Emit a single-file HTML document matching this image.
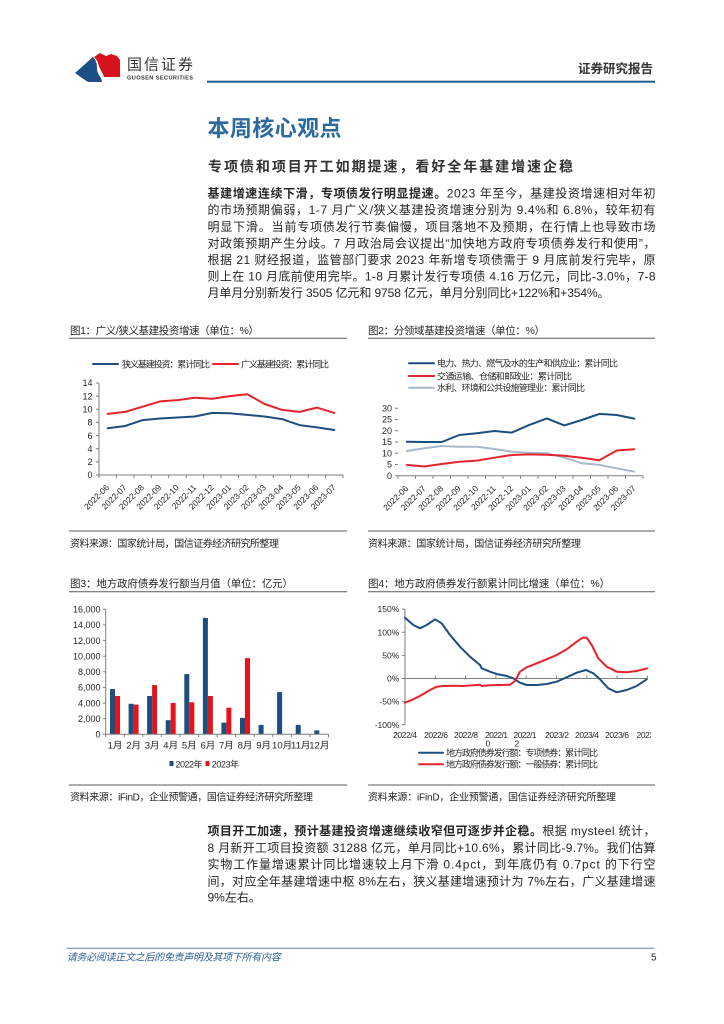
<!DOCTYPE html>
<html><head><meta charset="utf-8">
<style>
html,body{margin:0;padding:0;background:#fff;}
svg{display:block;}
text{font-family:"Liberation Sans","Noto Sans CJK SC",sans-serif;fill:#262626;}
.ax{stroke:#7f7f7f;stroke-width:1;fill:none;}
.rule{stroke:#5a5a5a;stroke-width:1;}
.bl{stroke:#1d4e80;stroke-width:2;fill:none;stroke-linejoin:round;stroke-linecap:round;}
.rd{stroke:#e4232b;stroke-width:2;fill:none;stroke-linejoin:round;stroke-linecap:round;}
.gy{stroke:#a9b8cc;stroke-width:2;fill:none;stroke-linejoin:round;stroke-linecap:round;}
</style></head><body>
<svg width="724" height="1024" viewBox="0 0 724 1024" xmlns="http://www.w3.org/2000/svg">
<defs><clipPath id="c4"><rect x="380" y="728" width="271" height="20"/></clipPath></defs>
<rect width="724" height="1024" fill="#fff"/>

<!-- Header -->
<path d="M75,73 L93,57 C97,61 97,66 97,70 C98,75 102,78 102,82 L88,82 L82,78 Z" fill="#1b4f86"/>
<path d="M94,57 L100,53 L106,56 L111,54 L117,56 L120,60 L120,77 L104,77 C103,73 100,70 99,66 C98,62 97,60 94,57 Z" fill="#d7141d"/>
<text x="127" y="69.5" font-size="15" textLength="66" lengthAdjust="spacing" style="fill:#333">国信证券</text>
<text x="127" y="79.5" font-size="5.6" font-weight="bold" textLength="66" lengthAdjust="spacing" style="fill:#333">GUOSEN SECURITIES</text>
<rect x="207" y="80.7" width="448" height="2" fill="#1f5a8f"/>
<text x="578" y="72.8" font-size="12.5" font-weight="bold" textLength="75" lengthAdjust="spacing" style="fill:#333">证券研究报告</text>

<!-- Title -->
<text x="207.5" y="136" font-size="22" font-weight="bold" textLength="134" lengthAdjust="spacing" style="fill:#2c6a9e">本周核心观点</text>
<text x="208" y="171.3" font-size="14" font-weight="bold" textLength="365" lengthAdjust="spacing" style="fill:#333">专项债和项目开工如期提速，看好全年基建增速企稳</text>

<!-- Body text top -->
<g font-size="12">
<text x="207.5" y="197.6" textLength="448" lengthAdjust="spacing"><tspan font-weight="bold">基建增速连续下滑，专项债发行明显提速。</tspan>2023 年至今，基建投资增速相对年初</text>
<text x="207.5" y="214.2" textLength="448" lengthAdjust="spacing">的市场预期偏弱，1-7 月广义/狭义基建投资增速分别为 9.4%和 6.8%，较年初有</text>
<text x="207.5" y="230.8" textLength="448" lengthAdjust="spacing">明显下滑。当前专项债发行节奏偏慢，项目落地不及预期，在行情上也导致市场</text>
<text x="207.5" y="247.4" textLength="448" lengthAdjust="spacing">对政策预期产生分歧。7 月政治局会议提出“加快地方政府专项债券发行和使用”，</text>
<text x="207.5" y="264.0" textLength="448" lengthAdjust="spacing">根据 21 财经报道，监管部门要求 2023 年新增专项债需于 9 月底前发行完毕，原</text>
<text x="207.5" y="280.6" textLength="448" lengthAdjust="spacing">则上在 10 月底前使用完毕。1-8 月累计发行专项债 4.16 万亿元，同比-3.0%，7-8</text>
<text x="207.5" y="297.2" textLength="402" lengthAdjust="spacing">月单月分别新发行 3505 亿元和 9758 亿元，单月分别同比+122%和+354%。</text>
</g>

<!-- ===== Chart 1 ===== -->
<text x="70" y="334" font-size="10.5" textLength="189" lengthAdjust="spacing">图1：广义/狭义基建投资增速（单位：%）</text>
<line x1="69" y1="338.3" x2="347" y2="338.3" class="rule"/>
<line x1="93" y1="364" x2="118" y2="364" class="bl"/>
<text x="122" y="367.4" font-size="9" textLength="88" lengthAdjust="spacing">狭义基建投资：累计同比</text>
<line x1="213" y1="364" x2="238" y2="364" class="rd"/>
<text x="241" y="367.4" font-size="9" textLength="88" lengthAdjust="spacing">广义基建投资：累计同比</text>
<g font-size="9" text-anchor="end">
<text x="92.5" y="386.2">14</text><text x="92.5" y="399.3">12</text><text x="92.5" y="412.5">10</text>
<text x="92.5" y="425.6">8</text><text x="92.5" y="438.8">6</text><text x="92.5" y="451.9">4</text>
<text x="92.5" y="465.1">2</text><text x="92.5" y="478.2">0</text>
</g>
<path class="ax" d="M99,383V475H343 M96,383h3 M96,396.1h3 M96,409.3h3 M96,422.4h3 M96,435.6h3 M96,448.7h3 M96,461.9h3 M96,475h3
M99,475v3 M116.4,475v3 M133.9,475v3 M151.3,475v3 M168.7,475v3 M186.2,475v3 M203.6,475v3 M221,475v3 M238.4,475v3 M255.9,475v3 M273.3,475v3 M290.7,475v3 M308.2,475v3 M325.6,475v3 M343,475v3"/>
<polyline class="bl" points="107.7,428.3 125.1,426.0 142.6,420.1 160.0,418.5 177.4,417.5 194.9,416.5 212.3,412.9 229.7,413.2 247.2,414.9 264.6,416.5 282.0,419.1 299.4,425.1 316.9,427.4 334.3,430.0"/>
<polyline class="rd" points="107.7,413.9 125.1,411.9 142.6,406.7 160.0,401.4 177.4,400.1 194.9,397.8 212.3,398.8 229.7,396.1 247.2,394.2 264.6,404.0 282.0,409.9 299.4,411.9 316.9,407.6 334.3,412.9"/>
<g font-size="8.5" text-anchor="end">
<text transform="translate(109.7,488) rotate(-45)">2022-06</text>
<text transform="translate(127.1,488) rotate(-45)">2022-07</text>
<text transform="translate(144.6,488) rotate(-45)">2022-08</text>
<text transform="translate(162.0,488) rotate(-45)">2022-09</text>
<text transform="translate(179.4,488) rotate(-45)">2022-10</text>
<text transform="translate(196.9,488) rotate(-45)">2022-11</text>
<text transform="translate(214.3,488) rotate(-45)">2022-12</text>
<text transform="translate(231.7,488) rotate(-45)">2023-01</text>
<text transform="translate(249.2,488) rotate(-45)">2023-02</text>
<text transform="translate(266.6,488) rotate(-45)">2023-03</text>
<text transform="translate(284.0,488) rotate(-45)">2023-04</text>
<text transform="translate(301.4,488) rotate(-45)">2023-05</text>
<text transform="translate(318.9,488) rotate(-45)">2023-06</text>
<text transform="translate(336.3,488) rotate(-45)">2023-07</text>
</g>
<line x1="69" y1="531" x2="347" y2="531" class="rule"/>
<text x="70" y="547" font-size="10" textLength="209" lengthAdjust="spacing">资料来源：国家统计局，国信证券经济研究所整理</text>

<!-- ===== Chart 2 ===== -->
<text x="368" y="334" font-size="10.5" textLength="177" lengthAdjust="spacing">图2：分领域基建投资增速（单位：%）</text>
<line x1="368" y1="338.3" x2="655" y2="338.3" class="rule"/>
<line x1="409" y1="363.3" x2="434" y2="363.3" class="bl"/>
<text x="437" y="366.7" font-size="9" textLength="181" lengthAdjust="spacing">电力、热力、燃气及水的生产和供应业：累计同比</text>
<line x1="409" y1="376" x2="434" y2="376" class="rd"/>
<text x="437" y="379.4" font-size="9" textLength="135" lengthAdjust="spacing">交通运输、仓储和邮政业：累计同比</text>
<line x1="409" y1="387.7" x2="434" y2="387.7" class="gy"/>
<text x="437" y="391.1" font-size="9" textLength="148" lengthAdjust="spacing">水利、环境和公共设施管理业：累计同比</text>
<g font-size="9" text-anchor="end">
<text x="392" y="411.5">30</text><text x="392" y="422.7">25</text><text x="392" y="434">20</text>
<text x="392" y="445.2">15</text><text x="392" y="456.4">10</text><text x="392" y="467.7">5</text><text x="392" y="478.9">0</text>
</g>
<path class="ax" d="M398,475.7H643 M395,408.3h3 M395,419.5h3 M395,430.8h3 M395,442h3 M395,453.2h3 M395,464.5h3 M395,475.7h3
M398,475.7v3 M415.5,475.7v3 M433,475.7v3 M450.5,475.7v3 M468,475.7v3 M485.5,475.7v3 M503,475.7v3 M520.5,475.7v3 M538,475.7v3 M555.5,475.7v3 M573,475.7v3 M590.5,475.7v3 M608,475.7v3 M625.5,475.7v3 M643,475.7v3"/>
<polyline class="gy" points="406.8,451.0 424.3,448.3 441.8,446.0 459.3,446.7 476.8,446.7 494.3,449.0 511.8,451.7 529.3,452.8 546.8,453.2 564.3,457.7 581.8,463.3 599.3,464.9 616.8,468.3 634.3,471.7"/>
<polyline class="rd" points="406.8,464.9 424.3,466.5 441.8,464.0 459.3,461.8 476.8,460.6 494.3,457.7 511.8,455.0 529.3,454.4 546.8,454.8 564.3,455.7 581.8,457.7 599.3,460.2 616.8,450.5 634.3,449.2"/>
<polyline class="bl" points="406.8,441.8 424.3,442.0 441.8,442.0 459.3,435.0 476.8,433.2 494.3,431.0 511.8,432.6 529.3,424.9 546.8,418.4 564.3,425.4 581.8,420.0 599.3,413.9 616.8,415.0 634.3,418.6"/>
<g font-size="8.5" text-anchor="end">
<text transform="translate(408.8,489) rotate(-45)">2022-06</text>
<text transform="translate(426.3,489) rotate(-45)">2022-07</text>
<text transform="translate(443.8,489) rotate(-45)">2022-08</text>
<text transform="translate(461.3,489) rotate(-45)">2022-09</text>
<text transform="translate(478.8,489) rotate(-45)">2022-10</text>
<text transform="translate(496.3,489) rotate(-45)">2022-11</text>
<text transform="translate(513.8,489) rotate(-45)">2022-12</text>
<text transform="translate(531.3,489) rotate(-45)">2023-01</text>
<text transform="translate(548.8,489) rotate(-45)">2023-02</text>
<text transform="translate(566.3,489) rotate(-45)">2023-03</text>
<text transform="translate(583.8,489) rotate(-45)">2023-04</text>
<text transform="translate(601.3,489) rotate(-45)">2023-05</text>
<text transform="translate(618.8,489) rotate(-45)">2023-06</text>
<text transform="translate(636.3,489) rotate(-45)">2023-07</text>
</g>
<line x1="368" y1="531" x2="655" y2="531" class="rule"/>
<text x="368" y="547" font-size="10" textLength="213" lengthAdjust="spacing">资料来源：国家统计局，国信证券经济研究所整理</text>

<!-- ===== Chart 3 ===== -->
<text x="70" y="587" font-size="10.5" textLength="223" lengthAdjust="spacing">图3：地方政府债券发行额当月值（单位：亿元）</text>
<line x1="69" y1="591.7" x2="347" y2="591.7" class="rule"/>
<g font-size="9" text-anchor="end">
<text x="100.5" y="612.5">16,000</text><text x="100.5" y="628.2">14,000</text><text x="100.5" y="643.8">12,000</text>
<text x="100.5" y="659.4">10,000</text><text x="100.5" y="675">8,000</text><text x="100.5" y="690.6">6,000</text>
<text x="100.5" y="706.3">4,000</text><text x="100.5" y="721.9">2,000</text><text x="100.5" y="737.5">0</text>
</g>
<g fill="#1d4e80">
<rect x="110.0" y="689.0" width="5" height="45.3"/>
<rect x="128.6" y="703.8" width="5" height="30.5"/>
<rect x="147.1" y="696.0" width="5" height="38.3"/>
<rect x="165.7" y="720.2" width="5" height="14.1"/>
<rect x="184.3" y="674.1" width="5" height="60.2"/>
<rect x="202.9" y="617.9" width="5" height="116.4"/>
<rect x="221.4" y="722.6" width="5" height="11.7"/>
<rect x="240.0" y="717.9" width="5" height="16.4"/>
<rect x="258.6" y="724.9" width="5" height="9.4"/>
<rect x="277.1" y="692.1" width="5" height="42.2"/>
<rect x="295.7" y="724.9" width="5" height="9.4"/>
<rect x="314.3" y="730.4" width="5" height="3.9"/>
</g>
<g fill="#e3141e">
<rect x="115.0" y="696.0" width="5" height="38.3"/>
<rect x="133.6" y="704.6" width="5" height="29.7"/>
<rect x="152.1" y="685.1" width="5" height="49.2"/>
<rect x="170.7" y="703.0" width="5" height="31.3"/>
<rect x="189.3" y="702.3" width="5" height="32.0"/>
<rect x="207.9" y="696.0" width="5" height="38.3"/>
<rect x="226.4" y="707.7" width="5" height="26.6"/>
<rect x="245.0" y="658.1" width="5" height="76.2"/>
</g>
<path class="ax" d="M105.7,609.3V734.3H328.5 M102.7,609.3h3 M102.7,625h3 M102.7,640.6h3 M102.7,656.2h3 M102.7,671.8h3 M102.7,687.4h3 M102.7,703.1h3 M102.7,718.7h3 M102.7,734.3h3
M105.7,734.3v3 M124.3,734.3v3 M142.8,734.3v3 M161.4,734.3v3 M180,734.3v3 M198.6,734.3v3 M217.1,734.3v3 M235.7,734.3v3 M254.3,734.3v3 M272.8,734.3v3 M291.4,734.3v3 M310,734.3v3 M328.5,734.3v3"/>
<g font-size="9.5" text-anchor="middle">
<text x="115.0" y="748.5">1月</text><text x="133.6" y="748.5">2月</text><text x="152.1" y="748.5">3月</text>
<text x="170.7" y="748.5">4月</text><text x="189.3" y="748.5">5月</text><text x="207.9" y="748.5">6月</text>
<text x="226.4" y="748.5">7月</text><text x="245.0" y="748.5">8月</text><text x="263.6" y="748.5">9月</text>
<text x="282.1" y="748.5">10月</text><text x="300.7" y="748.5">11月</text><text x="319.3" y="748.5">12月</text>
</g>
<rect x="169.5" y="761" width="4" height="5" fill="#1d4e80"/>
<text x="175.5" y="767.3" font-size="9" textLength="27" lengthAdjust="spacing">2022年</text>
<rect x="205.5" y="761" width="4" height="5" fill="#e3141e"/>
<text x="211.7" y="767.3" font-size="9" textLength="27.5" lengthAdjust="spacing">2023年</text>
<line x1="69" y1="785" x2="347" y2="785" class="rule"/>
<text x="70" y="800.5" font-size="10" textLength="243" lengthAdjust="spacing">资料来源：iFinD，企业预警通，国信证券经济研究所整理</text>

<!-- ===== Chart 4 ===== -->
<text x="368" y="587" font-size="10.5" textLength="242" lengthAdjust="spacing">图4：地方政府债券发行额累计同比增速（单位：%）</text>
<line x1="368" y1="591.7" x2="655" y2="591.7" class="rule"/>
<g font-size="8.5" text-anchor="end">
<text x="399.3" y="612.2">150%</text><text x="399.3" y="635.3">100%</text><text x="399.3" y="658.5">50%</text>
<text x="399.3" y="681.6">0%</text><text x="399.3" y="704.7">-50%</text><text x="399.3" y="727.9">-100%</text>
</g>
<path class="ax" d="M405,609V725 M402,609.1h3 M402,632.2h3 M402,655.4h3 M402,678.5h3 M402,701.6h3 M402,724.8h3
M405,678.5H647.4 M435.3,675.5v3 M465.6,675.5v3 M495.9,675.5v3 M526.2,675.5v3 M556.5,675.5v3 M586.8,675.5v3 M617.1,675.5v3 M647.4,675.5v3"/>
<polyline class="bl" points="405,617.7 413.3,625 420,628.3 426.7,625 435,619.3 441.7,623.3 450,635 460,646.7 470,656.7 480,665 481.7,668.3 490,671.7 496.7,674 506.7,676 513.3,678.3 520,682.7 526.7,685 536.7,685 546.7,684 556.7,681.7 566.7,677.3 576.7,672.7 586,670 593.3,673.3 600,679.3 608.3,688.3 616.7,692.3 626.7,690 636.7,686 646.7,679.3"/>
<polyline class="rd" points="405,702.7 413.3,699.3 421.7,695 430,690 436.7,686.7 443.3,686 453.3,685.7 463.3,686 473.3,685.3 480,684.7 481.7,686 490,685.3 500,685 510,684.7 515,681 520,671.7 526.7,667.3 536.7,663.3 546.7,659.3 556.7,655 566.7,649.3 576.7,641.7 582.7,637.7 586.7,637.7 591.7,645 598.3,658.3 606.7,666.7 616.7,671.7 626.7,672.3 636.7,671 647.3,668.3"/>
<g font-size="8.5">
<text x="393" y="738" textLength="24" lengthAdjust="spacing">2022/4</text>
<text x="424" y="738" textLength="24" lengthAdjust="spacing">2022/6</text>
<text x="454" y="738" textLength="24" lengthAdjust="spacing">2022/8</text>
<text x="485" y="738" textLength="23" lengthAdjust="spacing">2022/1</text>
<text x="513.5" y="738" textLength="23" lengthAdjust="spacing">2022/1</text>
<text x="545" y="738" textLength="24" lengthAdjust="spacing">2023/2</text>
<text x="575" y="738" textLength="24" lengthAdjust="spacing">2023/4</text>
<text x="605" y="738" textLength="24" lengthAdjust="spacing">2023/6</text>
<text x="636.5" y="738" textLength="24" lengthAdjust="spacing" clip-path="url(#c4)">2023/8</text>
<text x="485.5" y="746.5">0</text>
<text x="514.5" y="746.5">2</text>
</g>
<line x1="419" y1="752.7" x2="443" y2="752.7" class="bl"/>
<text x="446" y="756" font-size="9" textLength="152" lengthAdjust="spacing">地方政府债券发行额：专项债券：累计同比</text>
<line x1="419" y1="764.3" x2="443" y2="764.3" class="rd"/>
<text x="446" y="767.6" font-size="9" textLength="152" lengthAdjust="spacing">地方政府债券发行额：一般债券：累计同比</text>
<line x1="368" y1="785" x2="655" y2="785" class="rule"/>
<text x="368" y="800.5" font-size="10" textLength="248" lengthAdjust="spacing">资料来源：iFinD，企业预警通，国信证券经济研究所整理</text>

<!-- Body text bottom -->
<g font-size="12">
<text x="207.5" y="835.1" textLength="448" lengthAdjust="spacing"><tspan font-weight="bold">项目开工加速，预计基建投资增速继续收窄但可逐步并企稳。</tspan>根据 mysteel 统计，</text>
<text x="207.5" y="851.9" textLength="448" lengthAdjust="spacing">8 月新开工项目投资额 31288 亿元，单月同比+10.6%，累计同比-9.7%。我们估算</text>
<text x="207.5" y="868.7" textLength="448" lengthAdjust="spacing">实物工作量增速累计同比增速较上月下滑 0.4pct，到年底仍有 0.7pct 的下行空</text>
<text x="207.5" y="885.5" textLength="448" lengthAdjust="spacing">间，对应全年基建增速中枢 8%左右，狭义基建增速预计为 7%左右，广义基建增速</text>
<text x="207.5" y="901.5">9%左右。</text>
</g>

<!-- Footer -->
<line x1="66.5" y1="948.3" x2="654.5" y2="948.3" stroke="#5b87b5" stroke-width="1"/>
<text x="66.7" y="960.5" font-size="10" font-style="italic" textLength="214" lengthAdjust="spacing" style="fill:#2f5f98">请务必阅读正文之后的免责声明及其项下所有内容</text>
<text x="651" y="960.5" font-size="10" style="fill:#333">5</text>
</svg>
</body></html>
